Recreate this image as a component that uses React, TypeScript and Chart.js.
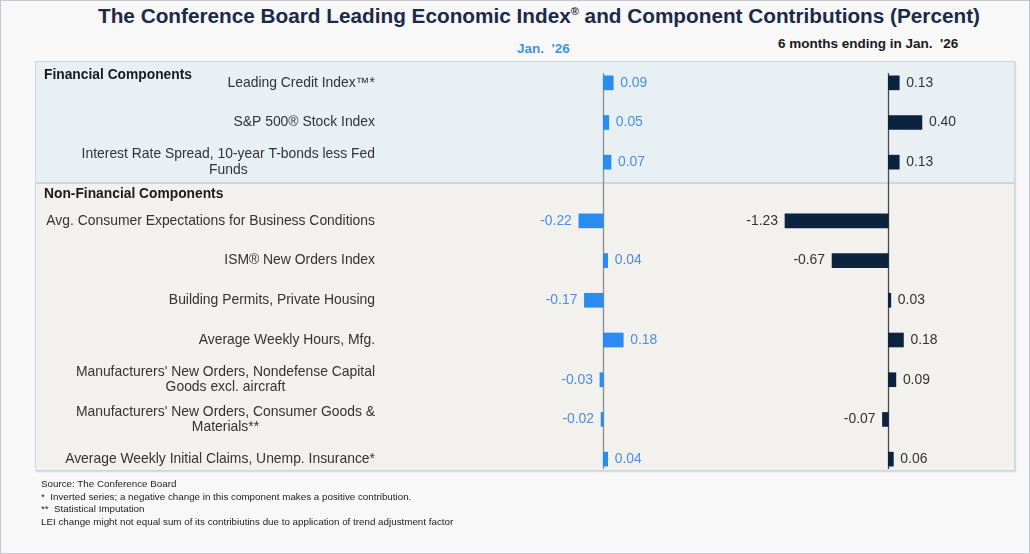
import React, { useEffect, useRef } from "react";
import { Chart, registerables } from "chart.js";

Chart.register(...registerables);

// ---------- data ----------
const financialLabels: string[][] = [
  ["Leading Credit Index™*"],
  ["S&P 500® Stock Index"],
  ["Interest Rate Spread, 10-year T-bonds less Fed", "Funds"],
];
const financialJan: number[] = [0.09, 0.05, 0.07];
const financialSixMonth: number[] = [0.13, 0.4, 0.13];

const nonFinancialLabels: string[][] = [
  ["Avg. Consumer Expectations for Business Conditions"],
  ["ISM® New Orders Index"],
  ["Building Permits, Private Housing"],
  ["Average Weekly Hours, Mfg."],
  ["Manufacturers' New Orders, Nondefense Capital", "Goods excl. aircraft"],
  ["Manufacturers' New Orders, Consumer Goods &", "Materials**"],
  ["Average Weekly Initial Claims, Unemp. Insurance*"],
];
const nonFinancialJan: number[] = [-0.22, 0.04, -0.17, 0.18, -0.03, -0.02, 0.04];
const nonFinancialSixMonth: number[] = [-1.23, -0.67, 0.03, 0.18, 0.09, -0.07, 0.06];

const janAxisRange: [number, number] = [-5.11, 3.7];
const sixMonthAxisRange: [number, number] = [-10.146, 1.496];

const footerLines: string[] = [
  "Source: The Conference Board",
  "*  Inverted series; a negative change in this component makes a positive contribution.",
  "**  Statistical Imputation",
  "LEI change might not equal sum of its contribiutins due to application of trend adjustment factor",
];

// ---------- styling ----------
const FONT = '"Liberation Sans", Arial, Helvetica, sans-serif';
const JAN_BAR = "#2a8bf0";
const SIX_BAR = "#0c2340";
const JAN_TEXT = "#4a8ee6";
const SIX_TEXT = "#333333";
const LABEL_RIGHT = 339; // canvas x of right edge of category labels
const TEXT_SIZE = 13.9;

function makePlugin(lineTop: number, lineBottom: number) {
  return {
    id: "leiDecor",
    beforeDatasetsDraw(chart: any) {
      const ctx = chart.ctx;
      const lines = [
        { id: "xJan", color: "#8c8c8c" },
        { id: "xSix", color: "#4a4a4a" },
      ];
      ctx.save();
      for (const l of lines) {
        const px = Math.round(chart.scales[l.id].getPixelForValue(0)) + 0.5;
        ctx.strokeStyle = l.color;
        ctx.lineWidth = 1.3;
        ctx.beginPath();
        ctx.moveTo(px, lineTop);
        ctx.lineTo(px, lineBottom);
        ctx.stroke();
      }
      ctx.restore();
    },
    afterDatasetsDraw(chart: any) {
      const ctx = chart.ctx;
      const yScale = chart.scales.y;
      const labels = chart.data.labels as string[][];
      ctx.save();
      ctx.font = `${TEXT_SIZE}px ${FONT}`;
      ctx.fillStyle = "#333333";
      ctx.textBaseline = "middle";
      ctx.textAlign = "center";
      labels.forEach((lns, i) => {
        const y = yScale.getPixelForValue(i);
        const maxW = Math.max(...lns.map((t) => ctx.measureText(t).width));
        const cx = LABEL_RIGHT - maxW / 2;
        lns.forEach((t, k) => {
          ctx.fillText(t, cx, y + (k - (lns.length - 1) / 2) * 15.5);
        });
      });
      chart.data.datasets.forEach((ds: any, d: number) => {
        const meta = chart.getDatasetMeta(d);
        ctx.fillStyle = d === 0 ? JAN_TEXT : SIX_TEXT;
        meta.data.forEach((el: any, i: number) => {
          const v = ds.data[i] as number;
          const txt = v.toFixed(2);
          if (v >= 0) {
            ctx.textAlign = "left";
            ctx.fillText(txt, el.x + 7, el.y);
          } else {
            ctx.textAlign = "right";
            ctx.fillText(txt, el.x - 7, el.y);
          }
        });
      });
      ctx.restore();
    },
  };
}

function buildChart(
  canvas: HTMLCanvasElement,
  labels: string[][],
  jan: number[],
  six: number[],
  padTop: number,
  lineTop: number,
  lineBottom: number
) {
  return new Chart(canvas, {
    type: "bar",
    data: {
      labels,
      datasets: [
        {
          data: jan,
          xAxisID: "xJan",
          backgroundColor: JAN_BAR,
          grouped: false,
          barThickness: 14,
        } as any,
        {
          data: six,
          xAxisID: "xSix",
          backgroundColor: SIX_BAR,
          grouped: false,
          barThickness: 14,
        } as any,
      ],
    },
    options: {
      indexAxis: "y",
      animation: false,
      responsive: false,
      maintainAspectRatio: false,
      layout: { padding: { top: padTop, left: 0, right: 0, bottom: 0 } },
      plugins: { legend: { display: false }, tooltip: { enabled: false } },
      scales: {
        y: { type: "category", display: false, offset: true },
        xJan: { type: "linear", display: false, min: janAxisRange[0], max: janAxisRange[1] },
        xSix: { type: "linear", display: false, min: sixMonthAxisRange[0], max: sixMonthAxisRange[1] },
      },
    } as any,
    plugins: [makePlugin(lineTop, lineBottom)],
  });
}

export default function App() {
  const finRef = useRef<HTMLCanvasElement>(null);
  const nonRef = useRef<HTMLCanvasElement>(null);

  useEffect(() => {
    const c1 = buildChart(finRef.current!, financialLabels, financialJan, financialSixMonth, 0, 10, 119);
    const c2 = buildChart(nonRef.current!, nonFinancialLabels, nonFinancialJan, nonFinancialSixMonth, 19, 0, 287);
    return () => {
      c1.destroy();
      c2.destroy();
    };
  }, []);

  const abs = (s: React.CSSProperties): React.CSSProperties => ({ position: "absolute", ...s });

  return (
    <div
      style={{
        position: "absolute",
        left: 0,
        top: 0,
        width: 1030,
        height: 554,
        boxSizing: "border-box",
        border: "1px solid #c4c8cc",
        background: "#f8f8f8",
        fontFamily: FONT,
        overflow: "hidden",
      }}
    >
      <div
        style={abs({
          left: 97,
          top: 2,
          whiteSpace: "nowrap",
          fontSize: 20.75,
          fontWeight: "bold",
          color: "#1b2a48",
          lineHeight: "26px",
        })}
      >
        The Conference Board Leading Economic Index
        <sup style={{ fontSize: 11, verticalAlign: "top", lineHeight: "16px" }}>®</sup> and Component
        Contributions (Percent)
      </div>
      <div
        style={abs({
          left: 516,
          top: 40,
          fontSize: 13.5,
          lineHeight: "16px",
          fontWeight: "bold",
          color: "#3d95e8",
          whiteSpace: "pre",
        })}
      >
        {"Jan.  '26"}
      </div>
      <div
        style={abs({
          left: 777,
          top: 35,
          fontSize: 13.5,
          lineHeight: "16px",
          fontWeight: "bold",
          color: "#1a1a1a",
          whiteSpace: "pre",
        })}
      >
        {"6 months ending in Jan.  '26"}
      </div>

      {/* panel */}
      <div
        style={abs({
          left: 34,
          top: 60,
          width: 978,
          height: 408,
          border: "1px solid #cbd7e2",
          boxShadow: "1px 1px 1px #d6dde4",
        })}
      >
        <div
          style={abs({
            left: 0,
            top: 0,
            width: 978,
            height: 120,
            background: "#e8f0f3",
            borderBottom: "2px solid #cad8de",
          })}
        />
        <div style={abs({ left: 0, top: 122, width: 978, height: 286, background: "#f3f1ed" })} />
      </div>

      <canvas
        ref={finRef}
        width={978}
        height={119}
        style={abs({ left: 35, top: 62, width: 978, height: 119 })}
      />
      <canvas
        ref={nonRef}
        width={978}
        height={297}
        style={abs({ left: 35, top: 181, width: 978, height: 297 })}
      />

      <div
        style={abs({ left: 43, top: 66, fontSize: 13.8, lineHeight: "16px", fontWeight: "bold", color: "#1a1a1a" })}
      >
        Financial Components
      </div>
      <div
        style={abs({ left: 43, top: 185, fontSize: 13.8, lineHeight: "16px", fontWeight: "bold", color: "#1a1a1a" })}
      >
        Non-Financial Components
      </div>

      <div
        style={abs({
          left: 40,
          top: 477,
          fontSize: 9.8,
          lineHeight: "12.6px",
          color: "#222",
          whiteSpace: "pre",
        })}
      >
        {footerLines.map((l, i) => (
          <div key={i}>{l}</div>
        ))}
      </div>
    </div>
  );
}
